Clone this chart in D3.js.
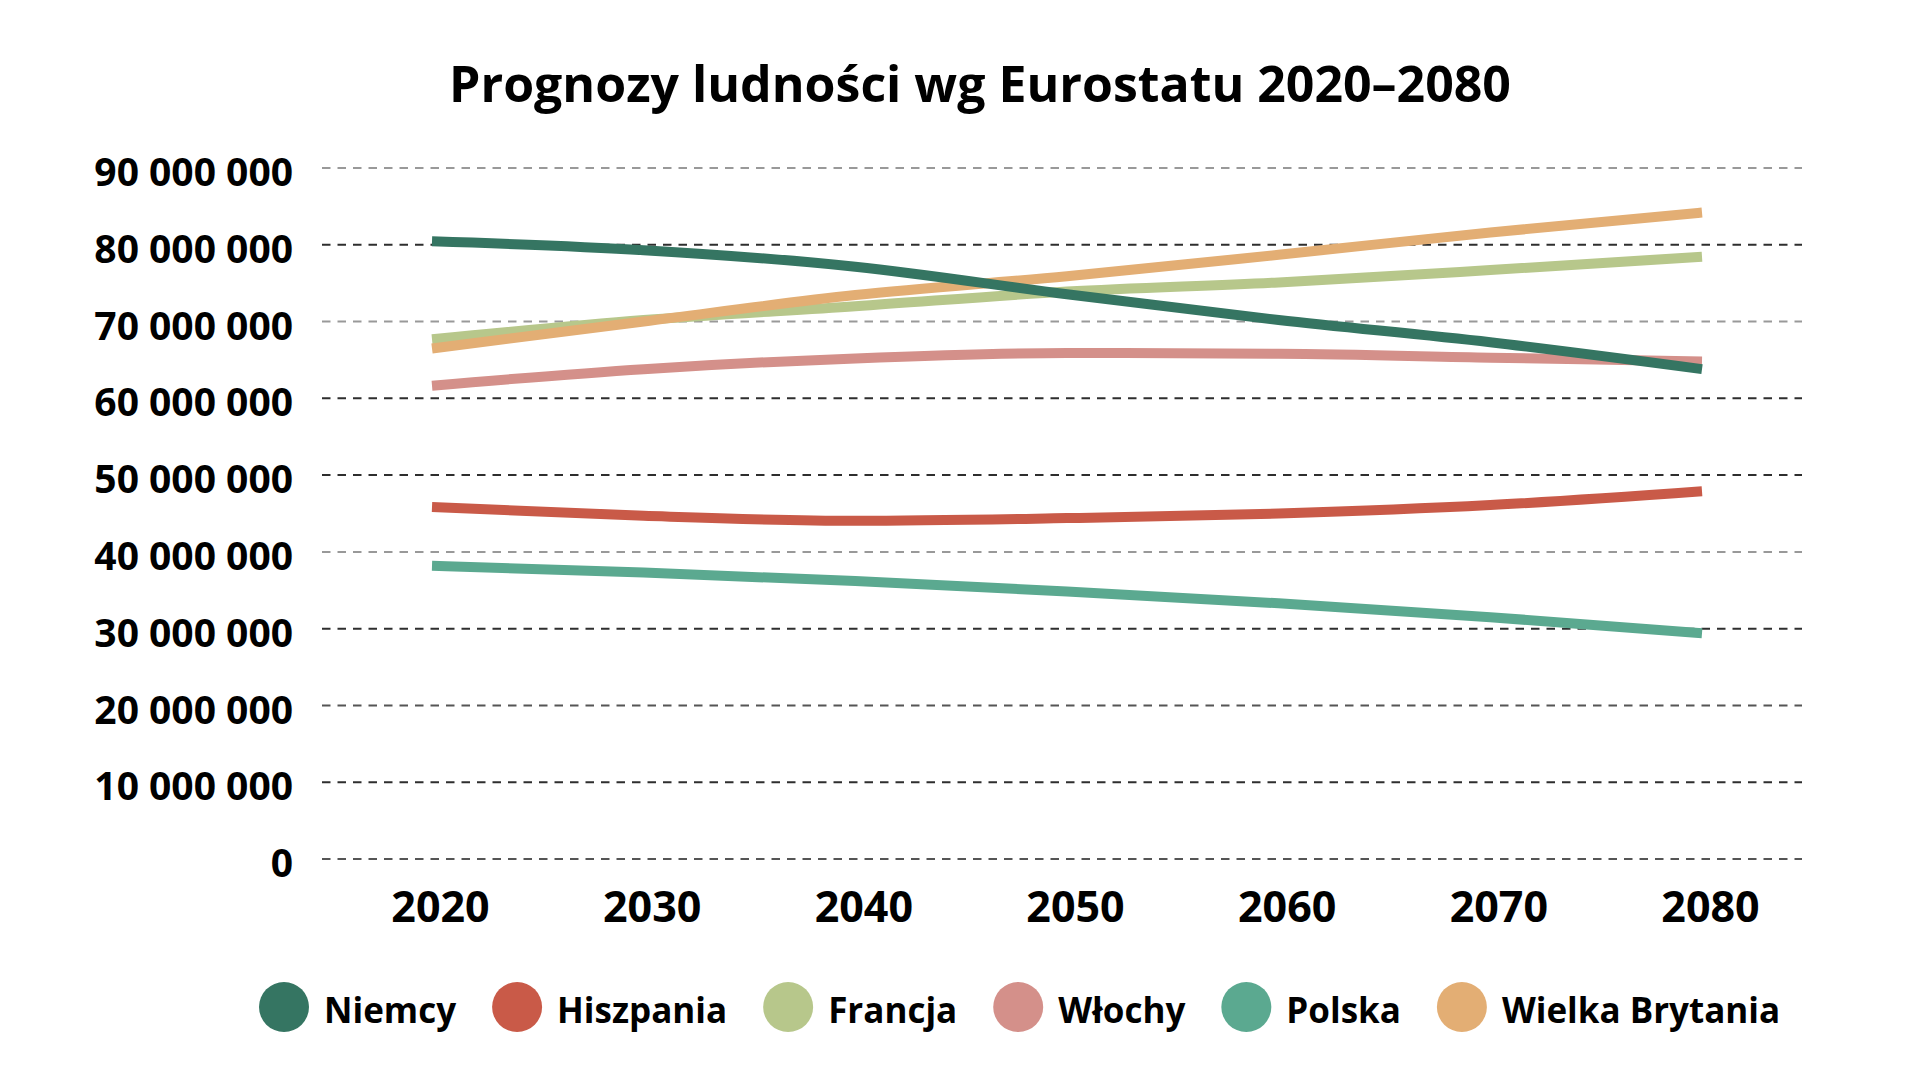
<!DOCTYPE html>
<html>
<head>
<meta charset="utf-8">
<script src="https://cdn.jsdelivr.net/npm/d3@7"></script>
<style>
  html, body { margin: 0; padding: 0; background: #ffffff; }
  svg { display: block; }
  text { font-family: "Open Sans", "Noto Sans", sans-serif; font-weight: 700; fill: #000; }
</style>
</head>
<body>
<svg id="chart" width="1920" height="1089"></svg>
<script>
// ---- data ----
const title = "Prognozy ludności wg Eurostatu 2020–2080";
const years = [2020, 2030, 2040, 2050, 2060, 2070, 2080];
const yTicks = [0, 10000000, 20000000, 30000000, 40000000, 50000000, 60000000, 70000000, 80000000, 90000000];
const seriesNames = ["Niemcy", "Hiszpania", "Francja", "Włochy", "Polska", "Wielka Brytania"];
const niemcy    = [80450000, 79300000, 77150000, 73550000, 70200000, 67300000, 63800000];
const hiszpania = [45850000, 44700000, 44050000, 44400000, 45000000, 46100000, 47900000];
const francja   = [67700000, 70200000, 72000000, 73900000, 75100000, 76700000, 78450000];
const wlochy    = [61650000, 63800000, 65200000, 65900000, 65800000, 65300000, 64800000];
const polska    = [38200000, 37300000, 36200000, 34850000, 33300000, 31500000, 29400000];
const wielkaBrytania = [66500000, 70000000, 73450000, 75900000, 78700000, 81600000, 84200000];
const seriesColors = ["#357562", "#c95a48", "#b7c78b", "#d4908a", "#5ba990", "#e3ae74"];

const seriesValues = [niemcy, hiszpania, francja, wlochy, polska, wielkaBrytania];
const series = seriesNames.map((name, i) => ({
  name, color: seriesColors[i],
  points: years.map((yr, j) => ({ year: yr, value: seriesValues[i][j] }))
}));
// drawing order (bottom -> top)
const drawOrder = ["Polska", "Hiszpania", "Włochy", "Francja", "Wielka Brytania", "Niemcy"];

// ---- layout ----
const svg = d3.select("#chart");
const x = d3.scaleLinear().domain([2020, 2080]).range([432, 1702]);
const y = d3.scaleLinear().domain([0, 90000000]).range([859, 168]);
const gridX1 = 322, gridX2 = 1802;

// title
svg.append("text")
  .attr("x", 980).attr("y", 102)
  .attr("text-anchor", "middle")
  .style("font-size", "50px")
  .text(title);

// gridlines
const darkTicks = new Set([80000000, 60000000, 50000000, 30000000, 10000000]);
const midTicks = new Set([20000000, 0]);
svg.append("g").selectAll("line").data(yTicks).join("line")
  .attr("x1", gridX1).attr("x2", gridX2)
  .attr("y1", d => y(d)).attr("y2", d => y(d))
  .attr("stroke", d => darkTicks.has(d) ? "#2e2e2e" : (midTicks.has(d) ? "#555" : "#999"))
  .attr("stroke-width", 2)
  .attr("stroke-dasharray", "8.5 7");

// y axis labels
const fmt = d => d3.format(",")(d).replace(/,/g, " ");
const yAxis = svg.append("g")
  .attr("transform", `translate(${gridX1},0)`)
  .call(d3.axisLeft(y).tickValues(yTicks).tickSize(0).tickPadding(29).tickFormat(fmt));
yAxis.select(".domain").remove();
yAxis.selectAll("text")
  .attr("dy", "0.45em")
  .style("font-size", "39px")
  .style("font-family", '"Open Sans", "Noto Sans", sans-serif')
  .style("font-weight", 700)
  .attr("fill", "#000");

// x axis labels
const xAxis = svg.append("g")
  .attr("transform", `translate(8,859)`)
  .call(d3.axisBottom(x).tickValues(years).tickSize(0).tickPadding(32).tickFormat(d3.format("d")));
xAxis.select(".domain").remove();
xAxis.selectAll("text")
  .style("font-size", "43px")
  .style("font-family", '"Open Sans", "Noto Sans", sans-serif')
  .style("font-weight", 700)
  .attr("fill", "#000");

// lines
const line = d3.line()
  .x(d => x(d.year))
  .y(d => y(d.value))
  .curve(d3.curveMonotoneX);

const ordered = drawOrder.map(n => series.find(s => s.name === n));
svg.append("g").selectAll("path").data(ordered).join("path")
  .attr("d", d => line(d.points))
  .attr("fill", "none")
  .attr("stroke", d => d.color)
  .attr("stroke-width", 10)
  .attr("stroke-linecap", "butt");

// legend (flow layout)
const legend = svg.append("g");
let cx = 284;
const legendY = 1007;
series.forEach(s => {
  legend.append("circle")
    .attr("cx", cx).attr("cy", legendY).attr("r", 25)
    .attr("fill", s.color);
  const t = legend.append("text")
    .attr("x", cx + 40).attr("y", 1023)
    .style("font-size", "35px")
    .text(s.name);
  const w = t.node().getComputedTextLength();
  cx = cx + 40 + w + 61;
});
</script>
</body>
</html>
